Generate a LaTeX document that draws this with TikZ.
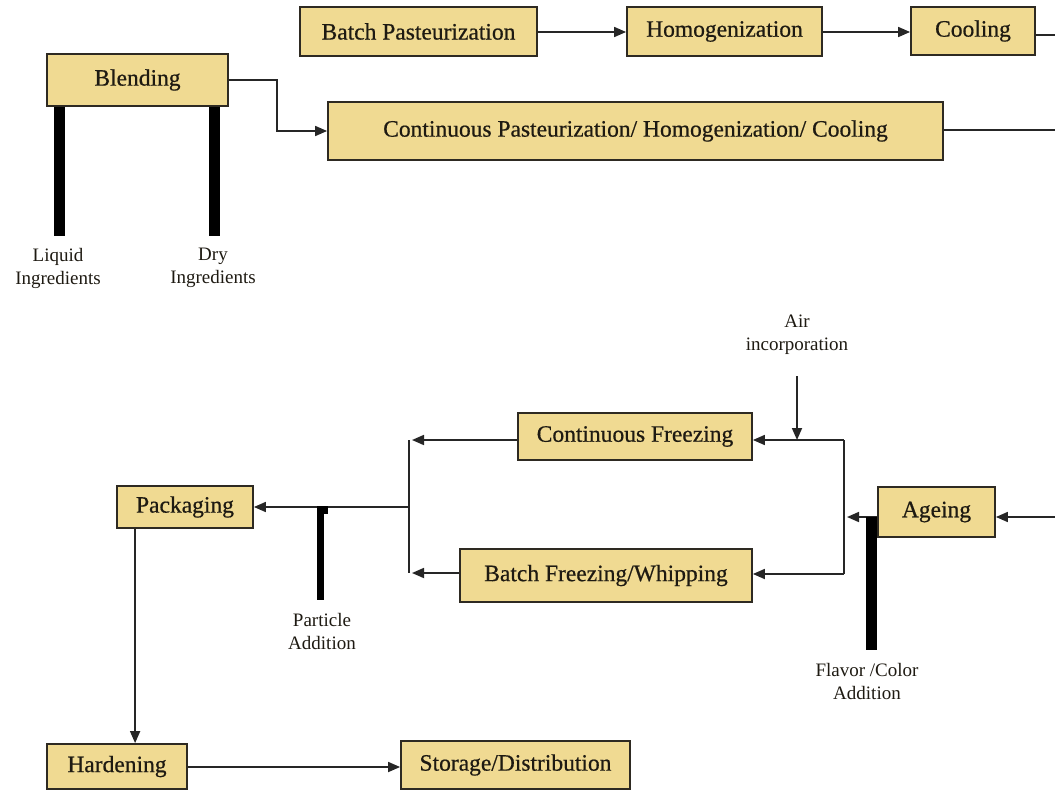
\documentclass[tikz,border=0pt]{standalone}
\usepackage{fontspec}
\setmainfont{Liberation Serif}
\newfontfamily\stepfont[FakeBold=0.6]{Liberation Serif}
\usetikzlibrary{arrows.meta}
\definecolor{boxfill}{HTML}{F0DA92}
\definecolor{boxline}{HTML}{2E2A22}
\definecolor{ink}{HTML}{1E1A12}
\definecolor{wire}{HTML}{262626}
\begin{document}
\begin{tikzpicture}[x=1pt,y=-1pt,
  procbox/.style={draw=boxline,fill=boxfill,line width=1.8pt,inner sep=0pt,
    text=ink,font=\stepfont\fontsize{23.5}{27}\selectfont},
  lbl/.style={align=center,text=ink,inner sep=0pt,
    font=\fontsize{19}{23}\selectfont},
  wireline/.style={draw=wire,line width=1.7pt},
  arr/.style={wireline,-{Triangle[length=12pt,width=10pt]}},
  feedbar/.style={draw=black,line width=11pt},
]
\useasboundingbox[fill=white] (0,0) rectangle (1055,790);

% process steps
\node[procbox,minimum width=237pt,minimum height=49pt] (bp)    at (418.5,31.5) {Batch Pasteurization};
\node[procbox,minimum width=195pt,minimum height=49pt] (homo)  at (724.5,31.5) {Homogenization};
\node[procbox,minimum width=124pt,minimum height=48pt] (cool)  at (973,31)     {Cooling};
\node[procbox,minimum width=181pt,minimum height=52pt] (blend) at (137.5,80)   {Blending};
\node[procbox,minimum width=615pt,minimum height=58pt] (cp)    at (635.5,131)  {Continuous Pasteurization/ Homogenization/ Cooling};
\node[procbox,minimum width=234pt,minimum height=47pt] (cf)    at (635,436.5)  {Continuous Freezing};
\node[procbox,minimum width=292pt,minimum height=53pt] (bf)    at (606,575.5)  {Batch Freezing/Whipping};
\node[procbox,minimum width=117pt,minimum height=50pt] (age)   at (936.5,512)  {Ageing};
\node[procbox,minimum width=136pt,minimum height=42pt] (pack)  at (185,507)    {Packaging};
\node[procbox,minimum width=140pt,minimum height=45pt] (hard)  at (117,766.5)  {Hardening};
\node[procbox,minimum width=229pt,minimum height=48pt] (stor)  at (515.5,765)  {Storage/Distribution};

% ingredient and addition labels
\node[lbl] (liq)  at (58,268)  {Liquid\\Ingredients};
\node[lbl] (dry)  at (213,268) {Dry\\Ingredients};
\node[lbl] (air)  at (797,335) {Air\\incorporation};
\node[lbl] (part) at (322,631) {Particle\\Addition};
\node[lbl] (flav) at (867,681) {Flavor /Color\\Addition};

% free ends at the right margin and junction points
\coordinate (r1) at (1055,35);
\coordinate (r2) at (1055,130);
\coordinate (r3) at (1055,517);
\coordinate (rb1) at (844,440);
\coordinate (rb2) at (844,574);
\coordinate (rbm) at (844,517);
\coordinate (lb1) at (409,440);
\coordinate (lb2) at (409,573);
\coordinate (lbm) at (409,507);
\coordinate (airs) at (797,376);
\coordinate (airj) at (797,440);

% batch line
\draw[arr] (bp.east |- 0,32) -- (homo.west |- 0,32);
\draw[arr] (homo.east |- 0,32) -- (cool.west |- 0,32);
\draw[wireline] (cool.east |- r1) -- (r1);

% continuous line
\draw[arr] (blend.east) -- ++(48,0) |- (cp.west);
\draw[wireline] (cp.east |- r2) -- (r2);

% ingredient feeds
\draw[feedbar] (blend.south -| 59,0) -- (59,236);
\draw[feedbar] (blend.south -| 214,0) -- (214,236);

% ageing and split to freezers
\draw[arr] (r3) -- (age.east |- r3);
\draw[arr] (age.west |- rbm) -- ([xshift=3pt]rbm);
\draw[wireline] (rb1) -- (rb2);
\draw[arr] (rb1) -- (cf.east |- rb1);
\draw[arr] (rb2) -- (bf.east |- rb2);
\draw[arr] (airs) -- (airj);
\draw[feedbar] (871,517) -- (871,650);

% freezers to packaging
\draw[arr] (cf.west |- lb1) -- ([xshift=3pt]lb1);
\draw[arr] (bf.west |- lb2) -- ([xshift=3pt]lb2);
\draw[wireline] (lb1) -- (lb2);
\draw[arr] (lbm) -- (pack.east |- lbm);
\draw[draw=black,line width=7pt] (320,506) -- (320,600);
\fill[black] (317,506) rectangle (328,514);

% packaging to distribution
\draw[arr] ([xshift=19pt]pack.south west) -- ([xshift=19pt]pack.south west |- hard.north);
\draw[arr] (hard.east |- 0,767) -- (stor.west |- 0,767);
\end{tikzpicture}
\end{document}
